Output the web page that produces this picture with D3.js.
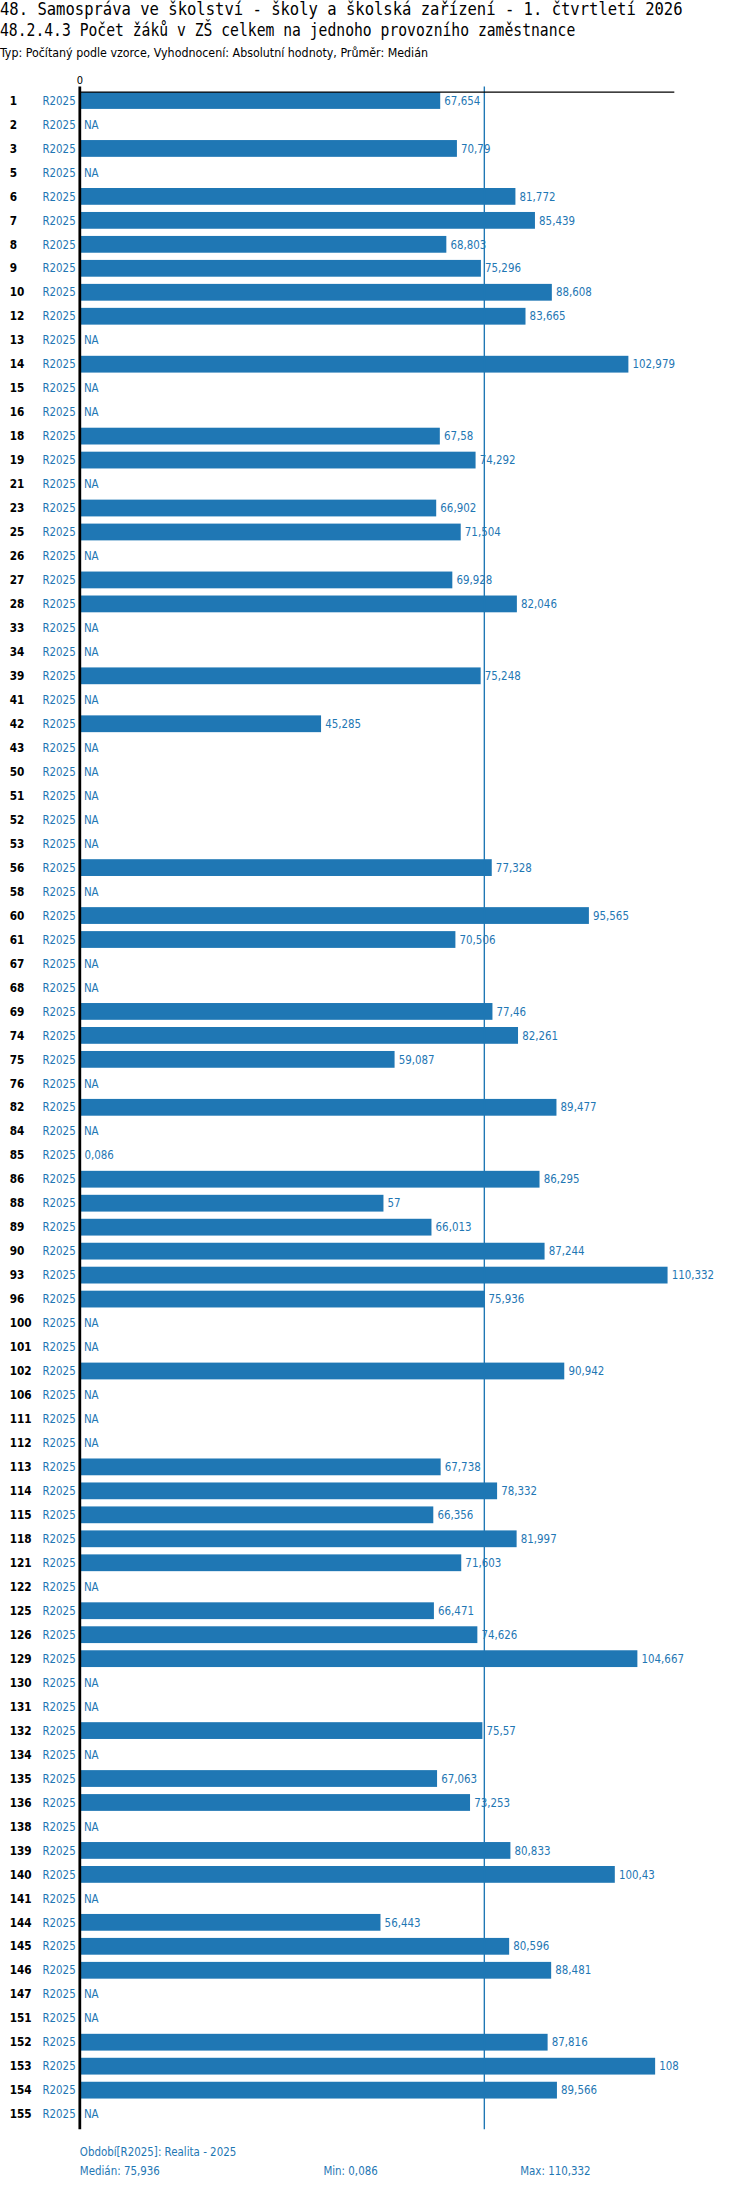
<!DOCTYPE html>
<html><head><meta charset="utf-8">
<script src="https://cdn.jsdelivr.net/npm/d3@7"></script>
<style>body{margin:0;background:#fff}svg{display:block}</style>
</head><body>
<script>
var ids = [1,2,3,5,6,7,8,9,10,12,13,14,15,16,18,19,21,23,25,26,27,28,33,34,39,41,42,43,50,51,52,53,56,58,60,61,67,68,69,74,75,76,82,84,85,86,88,89,90,93,96,100,101,102,106,111,112,113,114,115,118,121,122,125,126,129,130,131,132,134,135,136,138,139,140,141,144,145,146,147,151,152,153,154,155]
var values = [67.654,null,70.79,null,81.772,85.439,68.803,75.296,88.608,83.665,null,102.979,null,null,67.58,74.292,null,66.902,71.504,null,69.928,82.046,null,null,75.248,null,45.285,null,null,null,null,null,77.328,null,95.565,70.506,null,null,77.46,82.261,59.087,null,89.477,null,0.086,86.295,57,66.013,87.244,110.332,75.936,null,null,90.942,null,null,null,67.738,78.332,66.356,81.997,71.603,null,66.471,74.626,104.667,null,null,75.57,null,67.063,73.253,null,80.833,100.43,null,56.443,80.596,88.481,null,null,87.816,108,89.566,null]
var period = "R2025"
var median = 75.936, minV = 0.086, maxV = 110.332
var titles = ["48. Samospráva ve školství - školy a školská zařízení - 1. čtvrtletí 2026",
  "48.2.4.3 Počet žáků v ZŠ celkem na jednoho provozního zaměstnance"]
var subtitle = "Typ: Počítaný podle vzorce, Vyhodnocení: Absolutní hodnoty, Průměr: Medián"

var W = 545, H = 1570
var blue = "#1f77b4"
var fmt = function(v){ return String(v).replace(".", ",") }
var svg = d3.select("body").append("svg").attr("width",750).attr("height",2192)
  .attr("viewBox","0 0 "+W+" "+H).attr("preserveAspectRatio","none")

var x = d3.scaleLinear().domain([0, 111.6]).range([58, 490])
var y = d3.scaleBand().domain(ids).range([63.4, 1522.8]).paddingInner(0.3).paddingOuter(0.15)

svg.append("text").attr("x",0).attr("y",11).attr("font-family","DejaVu Sans Mono").attr("font-size",12)
  .attr("textLength",496).attr("lengthAdjust","spacingAndGlyphs").text(titles[0])
svg.append("text").attr("x",0).attr("y",26).attr("font-family","DejaVu Sans Mono").attr("font-size",12)
  .attr("textLength",418).attr("lengthAdjust","spacingAndGlyphs").text(titles[1])
svg.append("text").attr("x",0).attr("y",41).attr("font-family","DejaVu Sans Condensed").attr("font-size",8.4)
  .attr("textLength",311).attr("lengthAdjust","spacingAndGlyphs").text(subtitle)

var g = svg.append("g")
g.append("text").attr("x",x(0)).attr("y",60).attr("text-anchor","middle").attr("font-family","DejaVu Sans Condensed").attr("font-size",8).text("0")

var rows = g.selectAll(".row").data(ids.map(function(d,i){return {id:d, v:values[i]}})).enter().append("g")
rows.append("text").attr("x",7).attr("y",function(d){return y(d.id)+y.bandwidth()/2+3})
  .attr("font-family","DejaVu Sans Condensed").attr("font-weight","bold").attr("font-size",8.5).text(function(d){return d.id})
rows.append("text").attr("x",55).attr("y",function(d){return y(d.id)+y.bandwidth()/2+3}).attr("text-anchor","end")
  .attr("fill",blue).attr("font-family","DejaVu Sans Condensed").attr("font-size",8.3).text(period)
rows.filter(function(d){return d.v!==null}).append("rect").attr("x",x(0)).attr("y",function(d){return y(d.id)})
  .attr("width",function(d){return x(d.v)-x(0)}).attr("height",y.bandwidth()).attr("fill",blue)
rows.append("text").attr("x",function(d){return x(d.v===null?0:d.v)+3}).attr("y",function(d){return y(d.id)+y.bandwidth()/2+3})
  .attr("fill",blue).attr("font-family","DejaVu Sans Condensed").attr("font-size",8.3)
  .text(function(d){return d.v===null?"NA":fmt(d.v)})

g.append("line").attr("x1",x(median)).attr("x2",x(median)).attr("y1",62).attr("y2",1525).attr("stroke",blue).attr("stroke-width",1)
g.append("line").attr("x1",58).attr("x2",490).attr("y1",66).attr("y2",66).attr("stroke","#000").attr("stroke-width",1)
g.append("line").attr("x1",58).attr("x2",58).attr("y1",62).attr("y2",1525).attr("stroke","#000").attr("stroke-width",2)

var foot = svg.append("g").attr("fill",blue).attr("font-family","DejaVu Sans Condensed").attr("font-size",8.3)
foot.append("text").attr("x",58).attr("y",1544).text("Období["+period+"]: Realita - 2025")
foot.append("text").attr("x",58).attr("y",1558).text("Medián: "+fmt(median))
foot.append("text").attr("x",235).attr("y",1558).text("Min: "+fmt(minV))
foot.append("text").attr("x",378).attr("y",1558).text("Max: "+fmt(maxV))
</script>
</body></html>
